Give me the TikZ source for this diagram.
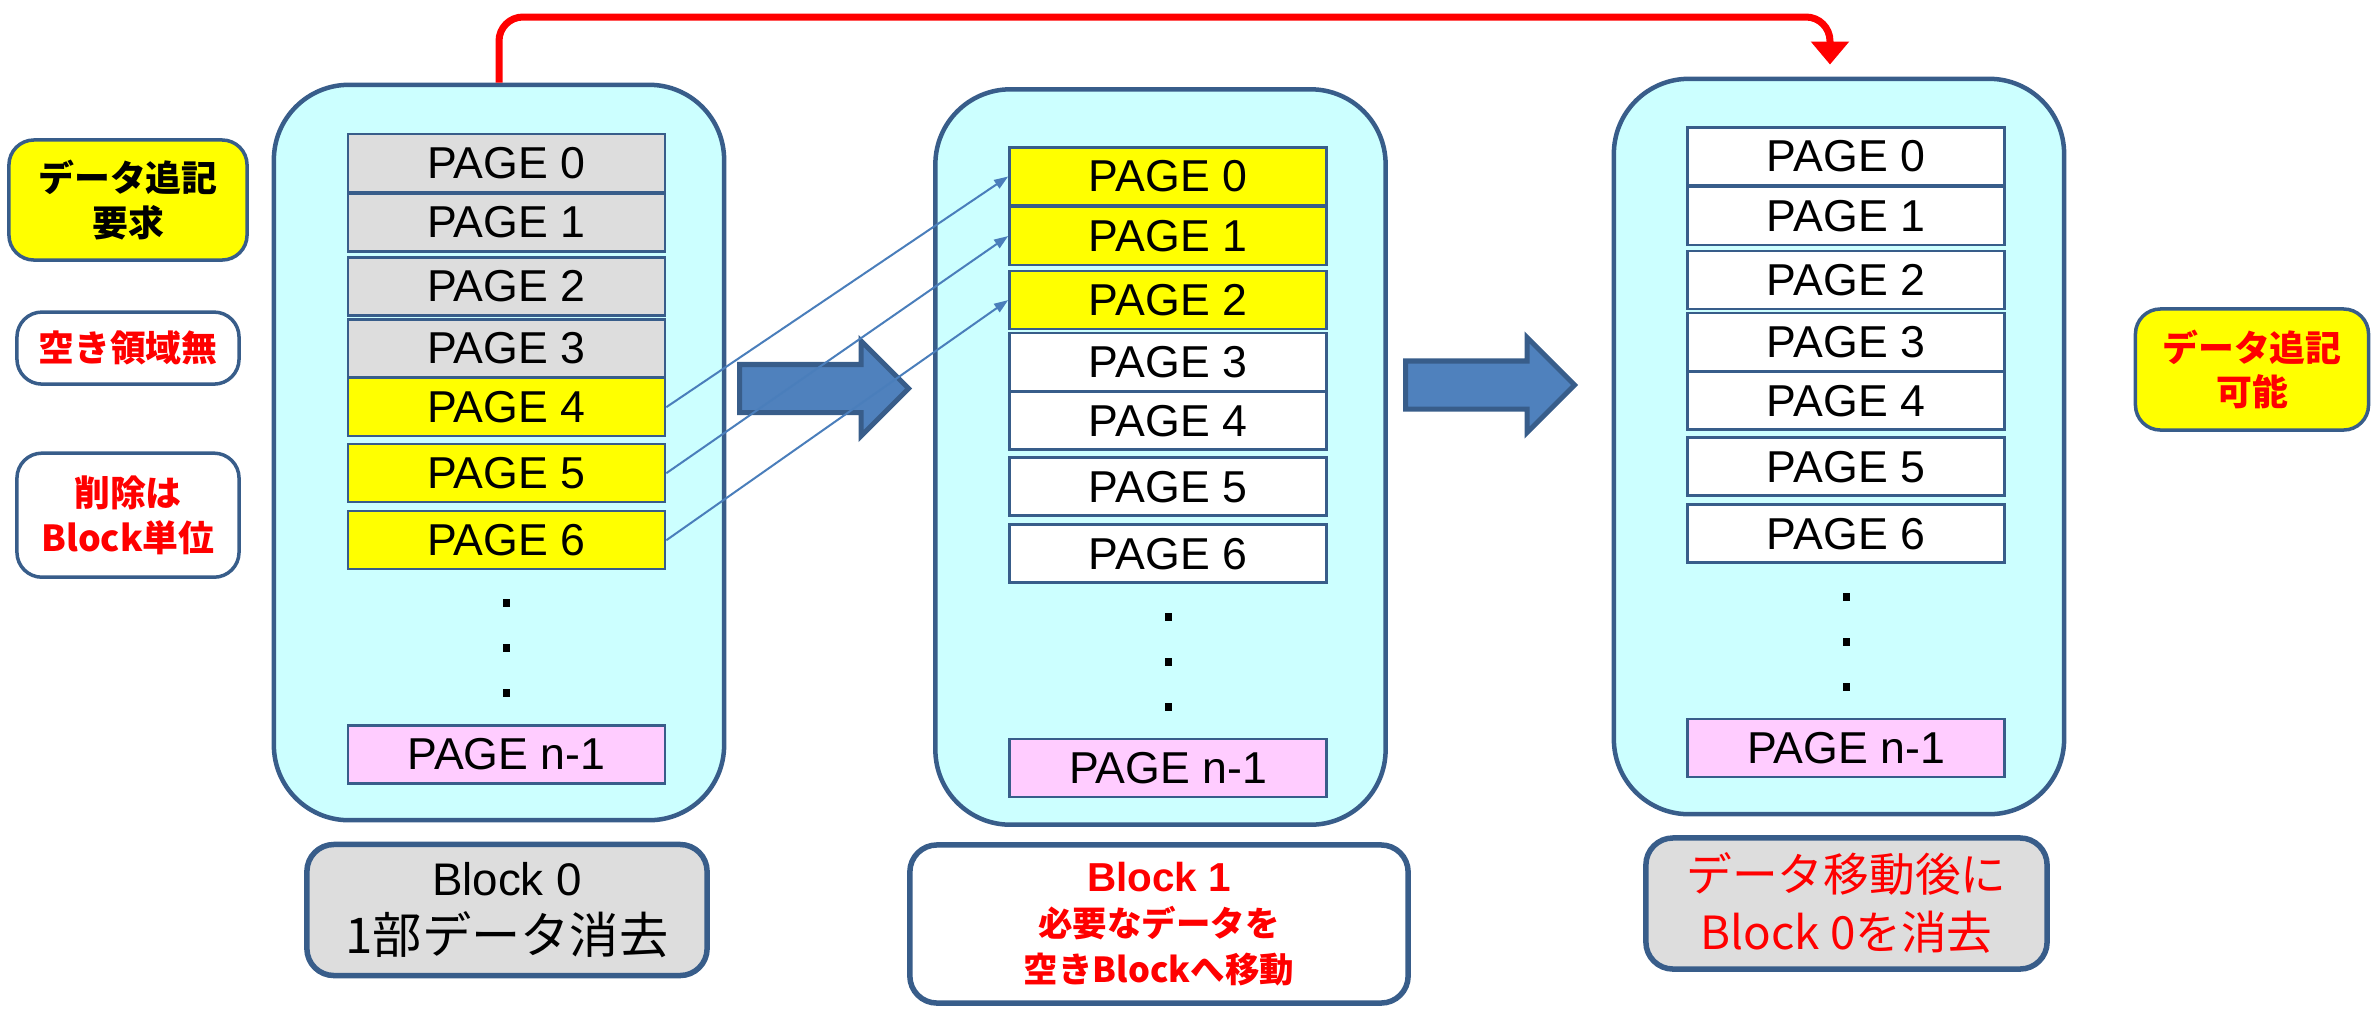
\documentclass[tikz,border=0pt]{standalone}
\usepackage{fontspec}
\setmainfont{Liberation Sans}
\newfontfamily\jp{Noto Sans CJK JP}
\usetikzlibrary{arrows,arrows.meta,shapes.arrows}

\definecolor{frame}{HTML}{385D8A}
\definecolor{cellcyan}{HTML}{CCFFFF}
\definecolor{pgray}{HTML}{DDDDDD}
\definecolor{ppink}{HTML}{FFCCFF}
\definecolor{pyellow}{HTML}{FFFF00}
\definecolor{arrowblue}{HTML}{4F81BD}
\definecolor{linkblue}{HTML}{4A7EBB}

\begin{document}
\begin{tikzpicture}[x=0.01cm,y=-0.01cm,font=\fontsize{12.7}{15}\selectfont]
  \tikzstyle{blockbox}=[draw=frame,line width=0.045cm,fill=cellcyan,rounded corners=0.75cm,
                        minimum width=4.5cm,minimum height=7.35cm]
  \tikzstyle{pagebox}=[draw=frame,line width=0.025cm,fill=white,minimum width=3.17cm,
                       minimum height=0.58cm,inner sep=0pt]
  \tikzstyle{dotmark}=[fill=black,minimum width=0.07cm,minimum height=0.08cm,inner sep=0pt]
  \tikzstyle{capbox}=[draw=frame,line width=0.055cm,rounded corners=0.27cm,align=center]
  \tikzstyle{notebox}=[draw=frame,line width=0.035cm,rounded corners=0.25cm,align=center,
                       font=\jp\bfseries\fontsize{10.2}{12.6}\selectfont]
  \tikzstyle{bigarrow}=[single arrow,draw=frame,line width=0.05cm,fill=arrowblue,anchor=tail,
                        inner xsep=0pt,inner ysep=0.215cm,single arrow head extend=0.235cm,
                        minimum height=1.69cm]
  \tikzstyle{copyline}=[-{Triangle[length=0.14cm,width=0.1cm]},draw=linkblue,line width=0.02cm]
  \tikzstyle{moveline}=[-{Triangle[length=0.23cm,width=0.37cm]},draw=red,line width=0.07cm,
                        rounded corners=0.24cm,shorten >=0.12cm]
  \useasboundingbox (0,0) rectangle (2374,1011);

  % side notes
  \node[notebox,fill=pyellow,minimum width=2.38cm,minimum height=1.2cm] (req) at (128,200) {データ追記\\要求};
  \node[notebox,fill=white,text=red,minimum width=2.22cm,minimum height=0.72cm] (nofree) [below of=req,node distance=1.48cm] {空き領域無};
  \node[notebox,fill=white,text=red,minimum width=2.22cm,minimum height=1.24cm] (erase) [below of=nofree,node distance=1.67cm] {削除は\\Block単位};
  \node[notebox,fill=pyellow,text=red,minimum width=2.33cm,minimum height=1.21cm] (canadd) at (2252,369.5) {データ追記\\可能};

  % blocks
  \node[blockbox] (blk0) at (499,452.5) {};
  \node[blockbox] (blk1) at (1160.5,457) {};
  \node[blockbox] (blk2) at (1839,446.5) {};

  % block 0
  \node[pagebox,fill=pgray]   (a0) at (506.5,163) {PAGE 0};
  \node[pagebox,fill=pgray]   (a1) [below of=a0,node distance=0.595cm] {PAGE 1};
  \node[pagebox,fill=pgray]   (a2) [below of=a1,node distance=0.64cm] {PAGE 2};
  \node[pagebox,fill=pgray]   (a3) [below of=a2,node distance=0.62cm] {PAGE 3};
  \node[pagebox,fill=pyellow] (a4) [below of=a3,node distance=0.585cm] {PAGE 4};
  \node[pagebox,fill=pyellow] (a5) [below of=a4,node distance=0.66cm] {PAGE 5};
  \node[pagebox,fill=pyellow] (a6) [below of=a5,node distance=0.67cm] {PAGE 6};
  \node[dotmark] (ad1) [below of=a6,node distance=0.63cm] {};
  \node[dotmark] (ad2) [below of=ad1,node distance=0.45cm] {};
  \node[dotmark] (ad3) [below of=ad2,node distance=0.45cm] {};
  \node[pagebox,fill=ppink]   (an) [below of=ad3,node distance=0.61cm] {PAGE n-1};

  % block 1
  \node[pagebox,fill=pyellow] (b0) at (1168,176.5) {PAGE 0};
  \node[pagebox,fill=pyellow] (b1) [below of=b0,node distance=0.595cm] {PAGE 1};
  \node[pagebox,fill=pyellow] (b2) [below of=b1,node distance=0.64cm] {PAGE 2};
  \node[pagebox]              (b3) [below of=b2,node distance=0.62cm] {PAGE 3};
  \node[pagebox]              (b4) [below of=b3,node distance=0.585cm] {PAGE 4};
  \node[pagebox]              (b5) [below of=b4,node distance=0.66cm] {PAGE 5};
  \node[pagebox]              (b6) [below of=b5,node distance=0.67cm] {PAGE 6};
  \node[dotmark] (bd1) [below of=b6,node distance=0.63cm] {};
  \node[dotmark] (bd2) [below of=bd1,node distance=0.45cm] {};
  \node[dotmark] (bd3) [below of=bd2,node distance=0.45cm] {};
  \node[pagebox,fill=ppink]   (bn) [below of=bd3,node distance=0.61cm] {PAGE n-1};

  % block 2
  \node[pagebox] (c0) at (1846,156.5) {PAGE 0};
  \node[pagebox] (c1) [below of=c0,node distance=0.595cm] {PAGE 1};
  \node[pagebox] (c2) [below of=c1,node distance=0.64cm] {PAGE 2};
  \node[pagebox] (c3) [below of=c2,node distance=0.62cm] {PAGE 3};
  \node[pagebox] (c4) [below of=c3,node distance=0.585cm] {PAGE 4};
  \node[pagebox] (c5) [below of=c4,node distance=0.66cm] {PAGE 5};
  \node[pagebox] (c6) [below of=c5,node distance=0.67cm] {PAGE 6};
  \node[dotmark] (cd1) [below of=c6,node distance=0.63cm] {};
  \node[dotmark] (cd2) [below of=cd1,node distance=0.45cm] {};
  \node[dotmark] (cd3) [below of=cd2,node distance=0.45cm] {};
  \node[pagebox,fill=ppink] (cn) [below of=cd3,node distance=0.61cm] {PAGE n-1};

  % captions
  \node[capbox,fill=pgray,minimum width=4.0cm,minimum height=1.31cm,font=\fontsize{13}{16.5}\selectfont]
       (cap0) at (507,910) {Block 0\\{\jp\fontsize{14}{16.5}\selectfont 1部データ消去}};
  \node[capbox,fill=white,text=red,minimum width=4.98cm,minimum height=1.58cm,
        font=\jp\bfseries\fontsize{9.8}{13}\selectfont]
       (cap1) at (1159,924) {{\rmfamily\bfseries\fontsize{11.5}{13}\selectfont Block 1}\\必要なデータを\\空きBlockへ移動};
  \node[capbox,fill=pgray,text=red,minimum width=4.01cm,minimum height=1.31cm,
        font=\jp\fontsize{13}{16.5}\selectfont]
       (cap2) at (1846.5,903.5) {データ移動後に\\Block 0を消去};

  % moves
  \node[bigarrow] (mv0) at (737,388.5) {};
  \node[bigarrow] (mv1) at (1403,385) {};

  \draw[copyline] (a4.east) -- (b0.west);
  \draw[copyline] (a5.east) -- (b1.west);
  \draw[copyline] (a6.east) -- (b2.west);

  \coordinate (ttop) at (1160,17);
  \draw[moveline] (blk0.north) |- (ttop) -| ([xshift=-0.09cm]blk2.north);
\end{tikzpicture}
\end{document}
